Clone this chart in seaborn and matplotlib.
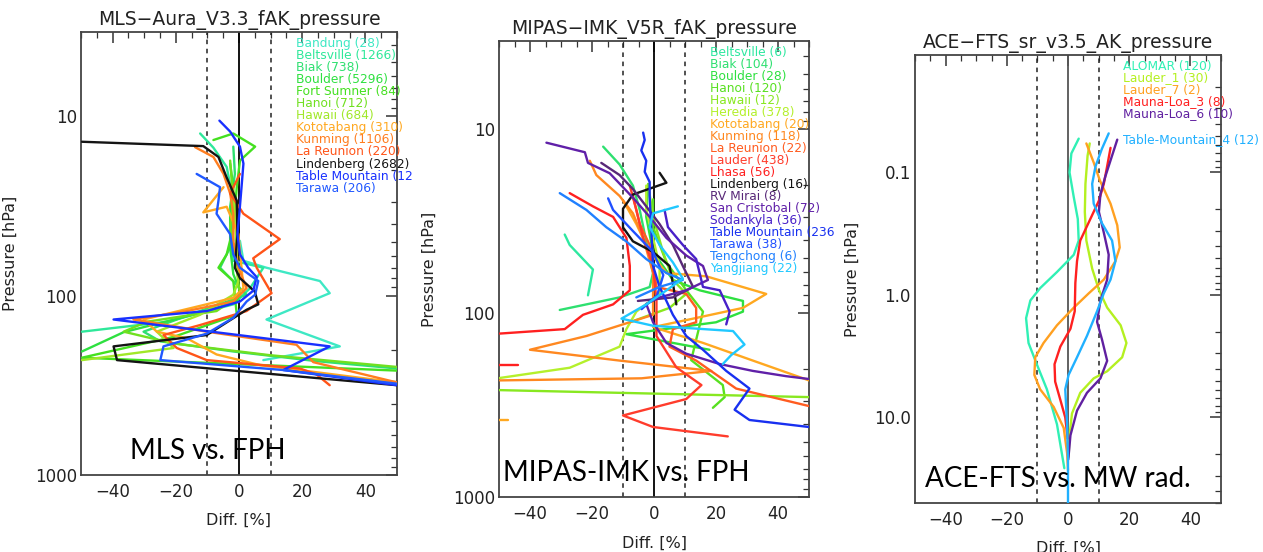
import numpy as np
import pandas as pd
import seaborn as sns
import matplotlib.pyplot as plt
from matplotlib.ticker import MultipleLocator, LogLocator, NullFormatter

nan = np.nan

# ---------------- MLS vs FPH ----------------
mls_titulo = "MLS−Aura_V3.3_fAK_pressure"
mls_estaciones = ["Bandung (28)", "Beltsville (1266)", "Biak (738)", "Boulder (5296)",
                  "Fort Sumner (84)", "Hanoi (712)", "Hawaii (684)", "Kototabang (310)",
                  "Kunming (1106)", "La Reunion (220)", "Lindenberg (2682)",
                  "Table Mountain (12", "Tarawa (206)"]
mls_colores = ["#3ee8c4", "#2ee89a", "#2ee070", "#2ee040", "#44e020", "#70e020", "#a0e828",
               "#ffa820", "#ff7e20", "#ff5418", "#141414", "#1830ff", "#2058ff"]

mls_bandung_d = [0.3, 1.4, 8.7, 25.6, 28.7, 8.7, 31.9, 7.7]
mls_bandung_p = [49.6, 64, 70, 83, 97, 136, 192, 229]
mls_beltsville_d = [-12.3, -8.1, -3.9, -1.8, -2.8, -1.8, 7.7, 3.5, -1.8, -22.8, -49.7]
mls_beltsville_p = [12.5, 15, 19.2, 29.6, 45.5, 64, 70, 91, 112, 140, 159]
mls_biak_d = [-1.8, -1.3, -2.8, -1.8, -6.0, 0.3, 2.4, -12.3, -30.2, -24.9, -1.8, 24.5, 50]
mls_biak_p = [14.8, 21, 32, 49.6, 70, 91, 99, 122, 159, 180, 205, 232, 255]
mls_boulder_d = [-2.8, -1.8, -2.8, -2.8, -1.8, 0.3, -0.7, -12.3, -36.5, -49.7]
mls_boulder_p = [18.4, 24.9, 35, 54, 76, 94, 108, 125, 160, 205]
mls_fortsumner_d = [-8.1, -1.8, 5.1, 0.3, -0.7, -1.8, -3.9, -6.5, -1.8, -0.7, -20.7, -49.7, 50]
mls_fortsumner_p = [13.6, 12.5, 14.8, 17.7, 24.9, 41.8, 59, 70, 83, 128, 170, 222, 262]
mls_hanoi_d = [-2.8, -1.8, -2.8, -1.3, 0.3, -7.1, -29.2, -36.5, -20.7, 9.8, 50]
mls_hanoi_p = [17.7, 29.6, 41.8, 59, 99, 122, 140, 159, 185, 215, 250]
mls_hawaii_d = [-1.8, -1.3, -0.7, -0.2, -1.8, -12.3, -26.0, -20.7, -49.7]
mls_hawaii_p = [24.9, 35, 59, 83, 99, 128, 159, 196, 229]
mls_kototabang_d = [-4.9, -11.3, -3.9, -0.2, 0.8, 1.4, -1.8, -30.2, -26.0, -16.5, -7.1, 6.6, 50]
mls_kototabang_p = [24.9, 34.4, 32, 45.5, 70, 91, 103, 136, 159, 173, 213, 244, 305]
mls_kunming_d = [-13.9, -8.1, -4.9, -2.8, -1.8, -1.8, -0.2, 2.4, -1.8, -16.5, -33.4, -10.2, 18.2, 23.5, 50]
mls_kunming_p = [14.9, 16.9, 21, 27, 35, 49.6, 70, 91, 108, 122, 136, 159, 188, 235, 305]
mls_lareunion_d = [0.3, -2.8, 1.4, 12.9, 4.5, 5.6, 10.3, 2.4, -12.3, -23.9, -19.7, -10.2, 19.3, 24.5, 28.7]
mls_lareunion_p = [21, 27, 35, 48.5, 62, 70, 97, 122, 146, 166, 196, 229, 255, 275, 316]
mls_lindenberg_d = [-49.7, -11.3, -6.5, -3.9, -0.7, -0.5, -1.3, 0.3, 5.0, 6.1, 2.4, -10.2, -39.7, -38.6, -1.8, 50]
mls_lindenberg_p = [13.9, 14.7, 16.9, 22, 29.6, 45.5, 70, 80, 95, 112, 120, 166, 192, 229, 262, 316]
mls_tablemountain_d = [-6.2, -2.8, 0.3, 1.4, 0.8, 0.1, -0.5, 0.3, 2.9, 5.6, 4.5, 0.3, -10.2, -39.7, 28.7, 14.0, 50]
mls_tablemountain_p = [10.6, 12.2, 14.8, 18.4, 24.9, 35, 45.5, 59, 70, 79, 94, 108, 122, 136, 192, 260, 316]
mls_tarawa_d = [-13.4, -6.0, -6.5, -7.1, -2.8, -1.8, 0.3, 6.1, 5.1, 2.4, -1.8, -10.2, -23.9, -24.9, 14.0, 50]
mls_tarawa_p = [21, 24.9, 29.6, 35, 45.5, 59, 70, 83, 99, 108, 133, 163, 192, 229, 260, 310]

mls_perfiles = [(mls_bandung_d, mls_bandung_p), (mls_beltsville_d, mls_beltsville_p),
                (mls_biak_d, mls_biak_p), (mls_boulder_d, mls_boulder_p),
                (mls_fortsumner_d, mls_fortsumner_p), (mls_hanoi_d, mls_hanoi_p),
                (mls_hawaii_d, mls_hawaii_p), (mls_kototabang_d, mls_kototabang_p),
                (mls_kunming_d, mls_kunming_p), (mls_lareunion_d, mls_lareunion_p),
                (mls_lindenberg_d, mls_lindenberg_p), (mls_tablemountain_d, mls_tablemountain_p),
                (mls_tarawa_d, mls_tarawa_p)]

# ---------------- MIPAS-IMK vs FPH ----------------
mip_titulo = "MIPAS−IMK_V5R_fAK_pressure"
mip_estaciones = ["Beltsville (6)", "Biak (104)", "Boulder (28)", "Hanoi (120)", "Hawaii (12)",
                  "Heredia (378)", "Kototabang (20)", "Kunming (118)", "La Reunion (22)",
                  "Lauder (438)", "Lhasa (56)", "Lindenberg (16)", "RV Mirai (8)",
                  "San Cristobal (72)", "Sodankyla (36)", "Table Mountain (236",
                  "Tarawa (38)", "Tengchong (6)", "Yangjiang (22)"]
mip_colores = ["#2ee8a0", "#2ee070", "#2ee040", "#58e020", "#88e820", "#b4f02c", "#ffa820",
               "#ff8820", "#ff5c20", "#ff3c2c", "#ff2020", "#141414", "#582878", "#6020a8",
               "#4820c8", "#1830f0", "#2050ff", "#2080ff", "#20c8ff"]

mip_beltsville_d = [-28.8, -27.2, -19.7, -21.3]
mip_beltsville_p = [37.3, 42.5, 57.8, 79.9]
mip_biak_d = [-16.4, -11.1, -6.8, -4.6, -2.5, -0.3, -1.4, -11.1, -30.4]
mip_biak_p = [12.4, 15.5, 20.2, 27.4, 40.7, 60.4, 72, 82, 96]
mip_boulder_d = [-1.9, -2.5, -0.3, 6.1, 14.7, 28.7, 28.7, 20.0, -8.9, 17.9]
mip_boulder_p = [19.8, 29.9, 46.4, 65.9, 75, 85.7, 98, 112, 130, 158]
mip_hanoi_d = [-0.3, -0.3, 4.0, 10.4, 15.8, 12.0, 22.2, 22.8, 19.0]
mip_hanoi_p = [24, 34, 52.9, 75, 98, 180, 246, 286, 327]
mip_hawaii_d = [-1.9, -0.3, 2.9, 6.1, 10.4, 5.0, -7.8, nan, -50, 50]
mip_hawaii_p = [19.8, 29.9, 46.4, 65.9, 78.5, 93.5, 112, nan, 262, 286]
mip_heredia_d = [-2.5, -2.5, -0.3, 1.8, 1.8, -5.7, -8.9, -11.1, -27.2, -49.7]
mip_heredia_p = [20.2, 27.4, 38.9, 55.3, 78.5, 98, 122, 152, 198, 225]
mip_kototabang_d = [-10, -5.7, -1.4, 4.0, 16.9, 36.2, 28.7, 12.6, -0.3, 15.8, 31.9, 50, nan, -50, -47]
mip_kototabang_p = [24.3, 32.7, 46.4, 60.4, 63, 78.5, 93.5, 107, 119, 145, 181, 232, nan, 381, 381]
mip_kunming_d = [-20.7, -18.6, -11.1, -6.8, -3.5, -0.3, -0.3, -21.8, -40, -11.1, 18.5, -4, -49.7]
mip_kunming_p = [14.8, 17.7, 23, 28.6, 38.9, 60.4, 102, 133, 158, 181, 206, 226, 232]
mip_lareunion_d = [-6.8, -4.6, -1.4, 0.8, 10.4, 13.6, 13.6, 6.1, 5.0, 13.6, 26.5, 50]
mip_lareunion_p = [23, 32.7, 42.5, 71.9, 78.5, 93.5, 112, 122, 152, 181, 257, 320]
mip_lauder_d = [-7.8, -5.7, -3.5, -0.3, 0.8, 0.8, 7.2, 15.3, 10.4, -10, -0.3, 23.8]
mip_lauder_p = [20.2, 27.4, 38.9, 55.3, 85.7, 133, 197, 246, 293, 360, 416, 468]
mip_lhasa_d = [-27.2, -19.7, -13.2, -8.9, -7.8, -7.8, -13.2, -22.9, -28.8, -49.7, nan, -50, -44]
mip_lhasa_p = [22.2, 26.2, 29.9, 38.9, 55.3, 75, 89.5, 102, 122, 129, nan, 192, 192]
mip_lindenberg_d = [1.8, 4.0, -6.8, -10, -10, -6.8, -0.3, 5.0, 6.1, 7.2]
mip_lindenberg_p = [17.2, 19.5, 22.6, 27, 34.1, 40.6, 46.4, 55.3, 68.8, 89.5]
mip_rvmirai_d = [-17, -11.1, -6.8, -2.5, 1.8, 6.1, 9.3, 12.6, 6.1, -5.2]
mip_rvmirai_p = [15.2, 17.7, 21.1, 26.2, 32.7, 42.5, 55.3, 71.9, 82, 85.7]
mip_sancristobal_d = [-34.7, -22.3, -21.3, -14.3, -10.5, -6.8, -1.4, 4, 10.4, 15.8, 17.4, 10.4,
                      1.8, -2.5, -0.3, 4, 10.4, 21.2, 31.9, 42.6, 50]
mip_sancristobal_p = [11.8, 13.3, 15.2, 17.3, 20.2, 23.5, 29.9, 38.9, 48.5, 55.3, 65.9, 75,
                      82, 89, 112, 145, 166, 189, 206, 220, 228]
mip_sodankyla_d = [3.4, 4.5, 9.3, 13.6, 15.8, 21.2, 24.4, 23.3]
mip_sodankyla_p = [27.4, 34, 42.5, 50.7, 71.9, 75, 98, 115]
mip_tablemountain_d = [-3.5, -3, -4.1, -2.5, -3, -1.4, -1.4, -0.3, 1.8, 4, 6.1, 10.4, 15.8,
                       23.3, 30.8, 26, 30.8, 50]
mip_tablemountain_p = [10.4, 11.4, 13, 14.8, 17, 19.3, 23, 55.3, 71.9, 85.7, 102, 133, 158,
                       206, 257, 335, 381, 416]
mip_tarawa_d = [-14.8, -13.2, -6.8, -0.3, 3.0, 1.0, -4.0]
mip_tarawa_p = [23.7, 27.4, 35.7, 46.4, 62, 80, 95]
mip_tengchong_d = [-30.4, -21.8, -15.4, -8.9, -2.5, 4, 9.3, 1.8, -5.7]
mip_tengchong_p = [22.2, 27.4, 34, 40.7, 50.7, 60.4, 65.9, 71.9, 82]
mip_yangjiang_d = [7.7, -0.3, -1.4, 1.8, 6.1, 9.3, 4, -2.5, -10.5, -0.3, 25.5, 29.2, 24.9, 22.2]
mip_yangjiang_p = [26.2, 28.6, 34, 42.5, 52.9, 64.8, 75.1, 89.5, 107, 117, 125, 148, 169, 189]

mip_perfiles = [(mip_beltsville_d, mip_beltsville_p), (mip_biak_d, mip_biak_p),
                (mip_boulder_d, mip_boulder_p), (mip_hanoi_d, mip_hanoi_p),
                (mip_hawaii_d, mip_hawaii_p), (mip_heredia_d, mip_heredia_p),
                (mip_kototabang_d, mip_kototabang_p), (mip_kunming_d, mip_kunming_p),
                (mip_lareunion_d, mip_lareunion_p), (mip_lauder_d, mip_lauder_p),
                (mip_lhasa_d, mip_lhasa_p), (mip_lindenberg_d, mip_lindenberg_p),
                (mip_rvmirai_d, mip_rvmirai_p), (mip_sancristobal_d, mip_sancristobal_p),
                (mip_sodankyla_d, mip_sodankyla_p), (mip_tablemountain_d, mip_tablemountain_p),
                (mip_tarawa_d, mip_tarawa_p), (mip_tengchong_d, mip_tengchong_p),
                (mip_yangjiang_d, mip_yangjiang_p)]

# ---------------- ACE-FTS vs MW rad. ----------------
ace_titulo = "ACE−FTS_sr_v3.5_AK_pressure"
ace_estaciones = ["ALOMAR (120)", "Lauder_1 (30)", "Lauder_7 (2)", "Mauna-Loa_3 (8)",
                  "Mauna-Loa_6 (10)", "Table-Mountain_4 (12)"]
ace_colores = ["#30f0b4", "#b4f020", "#ffa020", "#ff2020", "#6020a0", "#20b0ff"]

ace_alomar_d = [3.5, 1.1, 0.5, 1.9, 3.2, 3.5, 1.9, -3.6, -9.1, -12.3, -13.7, -12.9, -10.2, -6.9, -3.6, -1.2]
ace_alomar_p = [0.053, 0.070, 0.10, 0.16, 0.24, 0.36, 0.47, 0.65, 0.88, 1.11, 1.55, 2.47, 3.68, 5.9, 11.4, 26]
ace_lauder1_d = [7.1, 6.4, 5.7, 5.5, 6.0, 7.9, 10.1, 12.8, 17.2, 19.1, 17.7, 12.8, 8.4, 4.0, 1.3, 0.5, 0.2]
ace_lauder1_p = [0.058, 0.073, 0.124, 0.21, 0.36, 0.61, 0.91, 1.27, 1.77, 2.47, 3.23, 4.2, 4.8, 6.3, 9.3, 14, 21]
ace_lauder7_d = [6.0, 8.4, 10.4, 13.9, 16.1, 16.9, 15.5, 11.7, 6.8, 1.9, -3.6, -8.0, -10.7, -11.0, -9.1, -4.7, -1.4, -0.3, 0.0]
ace_lauder7_p = [0.058, 0.083, 0.116, 0.18, 0.27, 0.41, 0.53, 0.75, 0.97, 1.27, 1.77, 2.47, 3.23, 4.5, 5.9, 8.2, 12.2, 19.5, 27]
ace_maunaloa3_d = [13.9, 12.8, 11.7, 10.1, 7.3, 4.0, 2.95, 2.4, 2.2, 0.8, -2.5, -4.4, -4.2, -2.5, -0.9, -0.1]
ace_maunaloa3_p = [0.063, 0.089, 0.124, 0.17, 0.24, 0.36, 0.53, 0.80, 1.36, 1.89, 2.64, 3.68, 5.1, 7.2, 10, 14.9]
ace_maunaloa6_d = [16.1, 14.4, 12.2, 10.6, 10.1, 11.7, 13.3, 12.8, 10.6, 9.5, 11.1, 12.8, 10.6, 6.2, 2.95, 0.8, 0.1]
ace_maunaloa6_p = [0.054, 0.073, 0.108, 0.15, 0.21, 0.31, 0.47, 0.75, 1.11, 1.66, 2.31, 3.45, 4.8, 6.3, 8.8, 14, 22]
ace_tablemountain4_d = [13.3, 11.1, 9.0, 7.9, 8.4, 11.1, 14.4, 15.5, 13.9, 11.7, 9.5, 6.2, 2.95, 0.2, -0.9, -0.3, 0.0, 0.0]
ace_tablemountain4_p = [0.048, 0.064, 0.089, 0.124, 0.18, 0.26, 0.36, 0.53, 0.75, 0.97, 1.36, 2.16, 3.23, 4.5, 5.9, 11.4, 22, 60]

ace_perfiles = [(ace_alomar_d, ace_alomar_p), (ace_lauder1_d, ace_lauder1_p),
                (ace_lauder7_d, ace_lauder7_p), (ace_maunaloa3_d, ace_maunaloa3_p),
                (ace_maunaloa6_d, ace_maunaloa6_p), (ace_tablemountain4_d, ace_tablemountain4_p)]

ace_yticks = [0.1, 1.0, 10.0]
ace_yticklabels = ["0.1", "1.0", "10.0"]
fph_yticks = [10, 100, 1000]
fph_yticklabels = ["10", "100", "1000"]
xticks = [-40, -20, 0, 20, 40]


def tabla(perfiles, estaciones):
    # pasamos los perfiles a un dataframe largo; los NaN cortan la linea en tramos
    filas = []
    for nombre, (d, p) in zip(estaciones, perfiles):
        tramo = 0
        for i, (x, y) in enumerate(zip(d, p)):
            if np.isnan(x):
                tramo += 1
                continue
            filas.append({"estacion": nombre, "tramo": f"{nombre}_{tramo}",
                          "orden": i, "diff": x, "p": y})
    return pd.DataFrame(filas)


def panel(fig, caja, titulo, estaciones, colores, perfiles, yticks, yticklabels, ylim,
          texto, texto_xy, leyenda_xy, leyenda_dy, ylab_x, cero_color, saltos=None):
    W, H = 1263, 552
    l, t, r, b = caja
    ax = fig.add_axes([l / W, 1 - b / H, (r - l) / W, (b - t) / H])
    ax.set_yscale("log")

    df = tabla(perfiles, estaciones)
    sns.lineplot(data=df, x="diff", y="p", hue="estacion", units="tramo",
                 estimator=None, sort=False, palette=dict(zip(estaciones, colores)),
                 hue_order=estaciones, legend=False, linewidth=1.7, ax=ax, zorder=3)

    ax.axvline(0, color=cero_color, lw=1.3, zorder=2)
    for xv in (-10, 10):
        ax.axvline(xv, color="#222222", lw=1.1, ls=(0, (3, 3)), zorder=2)

    ax.set_xlim(-50, 50)
    ax.set_ylim(*ylim)
    ax.set_xticks(xticks)
    ax.xaxis.set_minor_locator(MultipleLocator(5))
    ax.set_yticks(yticks, yticklabels)
    ax.yaxis.set_minor_locator(LogLocator(base=10, subs=np.arange(2, 10)))
    ax.yaxis.set_minor_formatter(NullFormatter())
    ax.tick_params(which="both", direction="in", top=True, right=True, color="#333333",
                   labelsize=12, labelcolor="#222222")
    ax.tick_params(which="major", length=8, width=1.1)
    ax.tick_params(which="minor", length=4, width=0.9)
    ax.tick_params(axis="x", pad=6)
    ax.tick_params(axis="y", pad=3)
    for s in ax.spines.values():
        s.set_color("#444444")
        s.set_linewidth(1.3)

    ax.set_title(titulo, fontsize=13.5, color="#222222", pad=5)
    ax.set_xlabel("Diff. [%]", fontsize=11.5, color="#222222")
    ax.set_ylabel("Pressure [hPa]", fontsize=11.5, color="#222222")
    ax.yaxis.set_label_coords(ylab_x, 0.5)
    ax.xaxis.set_label_coords(0.5, -0.085)

    # leyenda de estaciones a mano, como en IDL
    x0, y0 = leyenda_xy
    for i, (nombre, c) in enumerate(zip(estaciones, colores)):
        fila = i if saltos is None else saltos[i]
        ax.text(x0, y0 - fila * leyenda_dy, nombre, transform=ax.transAxes, color=c,
                fontsize=8.8, ha="left", va="center", clip_on=False, zorder=5)

    ax.text(texto_xy[0], texto_xy[1], texto, transform=ax.transAxes, fontsize=20,
            family=["Lato", "DejaVu Sans"], color="black", ha="left", va="baseline", zorder=6)
    return ax


def main():
    sns.set_theme(style="white")
    plt.rcParams["font.family"] = ["DejaVu Sans"]
    plt.rcParams["axes.facecolor"] = "white"

    fig = plt.figure(figsize=(12.63, 5.52), dpi=100)

    panel(fig, (81, 32, 397, 475), mls_titulo, mls_estaciones, mls_colores, mls_perfiles,
          fph_yticks, fph_yticklabels, (1000, 3.4), "MLS vs. FPH", (0.155, 0.035),
          (0.68, 0.975), 0.0273, -0.2, "black")
    panel(fig, (499, 41, 809, 497), mip_titulo, mip_estaciones, mip_colores, mip_perfiles,
          fph_yticks, fph_yticklabels, (1000, 3.3), "MIPAS-IMK vs. FPH", (0.013, 0.035),
          (0.68, 0.975), 0.0263, -0.2, "black")
    panel(fig, (915, 55, 1221, 503), ace_titulo, ace_estaciones, ace_colores, ace_perfiles,
          ace_yticks, ace_yticklabels, (50, 0.011), "ACE-FTS vs. MW rad.", (0.033, 0.035),
          (0.68, 0.975), 0.0263, -0.18, "#555555", saltos=[0, 1, 2, 3, 4, 6.2])

    plt.savefig("out.png", dpi=100)
    plt.close()


if __name__ == "__main__":
    main()
